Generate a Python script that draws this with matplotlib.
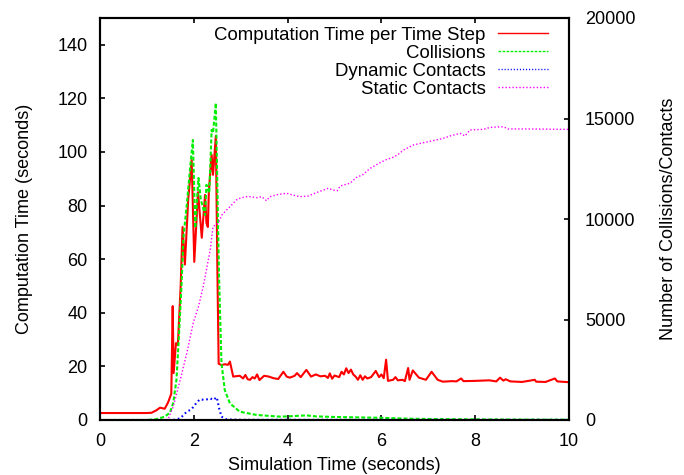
import matplotlib
matplotlib.use("Agg")
import matplotlib.pyplot as plt

plt.rcParams['font.family'] = ['Liberation Sans', 'DejaVu Sans']
plt.rcParams['font.size'] = 13

# computation time per step (left axis, seconds)
t_comp = [0.0, 1.0, 1.1, 1.2, 1.28, 1.38, 1.45, 1.52, 1.55, 1.57, 1.62, 1.66, 1.72, 1.76,
          1.81, 1.88, 1.955, 2.01, 2.09, 2.17, 2.24, 2.27, 2.30, 2.32, 2.38, 2.41, 2.47,
          2.50, 2.53, 2.59, 2.66, 2.73, 2.77, 2.84, 2.98, 3.05, 3.1, 3.15, 3.2, 3.25, 3.3,
          3.35, 3.4, 3.5, 3.6, 3.7, 3.8, 3.91, 3.98, 4.05, 4.15, 4.2, 4.28, 4.35, 4.40,
          4.5, 4.6, 4.7, 4.8, 4.86, 4.9, 4.95, 5.0, 5.1, 5.15, 5.2, 5.25, 5.3, 5.35, 5.4,
          5.45, 5.5, 5.55, 5.6, 5.65, 5.7, 5.78, 5.88, 5.95, 6.0, 6.05, 6.1, 6.14, 6.25,
          6.3, 6.35, 6.45, 6.5, 6.57, 6.6, 6.67, 6.8, 6.95, 7.07, 7.2, 7.31, 7.5, 7.6,
          7.7, 7.75, 8.0, 8.3, 8.45, 8.53, 8.6, 8.65, 8.75, 9.0, 9.27, 9.3, 9.5, 9.7,
          9.75, 10.0]
comp_time = [2.6, 2.6, 2.7, 3.6, 4.6, 4.2, 6.5, 9.8, 42.5, 17.5, 28.7, 28.0, 50.0, 72.0,
             58.0, 82.0, 97.0, 59.0, 85.0, 68.0, 84.0, 73.5, 72.0, 85.0, 99.0, 91.5, 106.0,
             60.0, 21.0, 20.5, 20.8, 20.6, 21.8, 16.2, 16.5, 15.5, 16.8, 15.2, 15.0, 16.0,
             15.5, 17.0, 14.9, 16.5, 16.2, 15.6, 15.3, 18.0, 16.2, 15.8, 16.5, 17.5, 16.0,
             17.6, 18.7, 16.2, 17.0, 16.3, 16.5, 15.7, 17.4, 15.4, 16.6, 16.0, 18.0, 17.0,
             19.3, 17.5, 18.8, 17.0, 16.2, 15.0, 16.7, 15.0, 16.3, 15.5, 16.0, 18.3, 16.0,
             17.0, 15.6, 22.5, 14.6, 15.0, 16.0, 14.8, 15.0, 14.5, 19.4, 15.0, 18.5, 15.8,
             15.0, 18.0, 15.0, 14.3, 14.5, 14.4, 15.5, 14.5, 14.6, 14.8, 14.4, 15.8, 14.7,
             15.2, 14.4, 14.2, 15.0, 14.3, 14.2, 15.5, 14.4, 14.1]

# collisions (right axis, count)
t_coll = [0.0, 1.0, 1.2, 1.38, 1.49, 1.56, 1.63, 1.69, 1.74, 1.78, 1.85, 1.92, 1.98, 2.03,
          2.10, 2.15, 2.24, 2.27, 2.33, 2.38, 2.41, 2.47, 2.52, 2.54, 2.59, 2.66, 2.77,
          2.98, 3.34, 3.84, 4.0, 4.4, 4.6, 5.0, 5.5, 6.0, 6.5, 7.0, 8.0, 9.0, 10.0]
collisions = [0, 0, 40, 164, 363, 830, 1990, 4480, 6810, 9120, 10700, 12500, 13930, 9550,
              12040, 10950, 10200, 11700, 11290, 14430, 14280, 15770, 9300, 6970, 2840,
              1490, 830, 413, 250, 166, 180, 230, 180, 150, 130, 110, 70, 50, 30, 20, 15]

# dynamic contacts (right axis)
t_dyn = [0.0, 1.56, 1.71, 1.85, 1.95, 2.06, 2.13, 2.24, 2.35, 2.41, 2.49, 2.54, 2.59,
         2.70, 3.0, 10.0]
dyn_contacts = [0, 0, 83, 413, 530, 862, 1030, 995, 1080, 995, 1130, 580, 165, 30, 10, 5]

# static contacts (right axis)
t_stat = [0.0, 1.3, 1.45, 1.56, 1.71, 1.85, 1.99, 2.10, 2.20, 2.35, 2.41, 2.52, 2.60,
          2.70, 2.77, 2.91, 3.0, 3.13, 3.2, 3.34, 3.45, 3.55, 3.62, 3.80, 3.98, 4.1,
          4.26, 4.44, 4.6, 4.87, 4.95, 5.06, 5.12, 5.33, 5.47, 5.6, 5.76, 5.97, 6.1,
          6.25, 6.35, 6.47, 6.68, 6.9, 7.11, 7.3, 7.46, 7.68, 7.78, 7.89, 8.17, 8.32,
          8.60, 8.70, 9.17, 9.5, 9.95, 10.0]
stat_contacts = [0, 0, 30, 660, 1990, 3320, 4850, 5640, 6630, 8460, 9620, 9790, 10200,
                 10450, 10610, 10950, 11050, 11110, 11110, 11060, 11110, 10910, 11110,
                 11220, 11280, 11200, 11110, 11140, 11300, 11530, 11450, 11410, 11640,
                 11780, 12070, 12200, 12520, 12800, 12950, 13070, 13200, 13430, 13680,
                 13800, 13900, 14000, 14130, 14260, 14130, 14430, 14460, 14560, 14590,
                 14480, 14480, 14470, 14460, 14460]

fig = plt.figure(figsize=(6.84, 4.75), dpi=100)
ax = fig.add_axes([100 / 684, 1 - 420 / 475, 469 / 684, 402 / 475])
ax2 = ax.twinx()

l1, = ax.plot(t_comp, comp_time, color='#ff0000', lw=1.5,
              label='Computation Time per Time Step')
l2, = ax2.plot(t_coll, collisions, color='#00ee00', lw=1.5, dashes=(1.9, 1.0),
               label='Collisions')
l3, = ax2.plot(t_dyn, dyn_contacts, color='#0000ff', lw=1.5, dashes=(0.8, 1.4),
               label='Dynamic Contacts')
l4, = ax2.plot(t_stat, stat_contacts, color='#ff00ff', lw=1.0, dashes=(1, 1.5),
               label='Static Contacts')

ax.set_xlim(0, 10)
ax.set_ylim(0, 150)
ax2.set_ylim(0, 20000)
ax.set_xticks(range(0, 11, 2))
ax.set_yticks(range(0, 141, 20))
ax2.set_yticks(range(0, 20001, 5000))

ax.tick_params(axis='x', direction='in', length=3.6, width=1.2, top=True, pad=9)
ax.tick_params(axis='y', direction='in', length=3.6, width=1.2, right=False, pad=9)
ax2.tick_params(axis='y', direction='in', length=3.6, width=1.2, pad=11.5)
for a in (ax, ax2):
    for s in a.spines.values():
        s.set_linewidth(1.5)

ax.set_xlabel('Simulation Time (seconds)')
ax.set_ylabel('Computation Time (seconds)')
ax2.set_ylabel('Number of Collisions/Contacts')
ax.xaxis.set_label_coords(0.5, -0.092)
ax.yaxis.set_label_coords(-0.143, 0.5)
ax2.yaxis.set_label_coords(1.194, 0.5)

leg = ax2.legend(handles=[l1, l2, l3, l4], loc='upper right',
                 bbox_to_anchor=(0.955, 0.978), frameon=False, markerfirst=False,
                 borderaxespad=0, borderpad=0, handlelength=2.7, handletextpad=0.65,
                 labelspacing=0.05, fontsize=13.4)
# legend samples are thinner than the plotted lines
for h in leg.get_lines():
    h.set_linewidth(1.0)

plt.savefig('out.png', dpi=100)
